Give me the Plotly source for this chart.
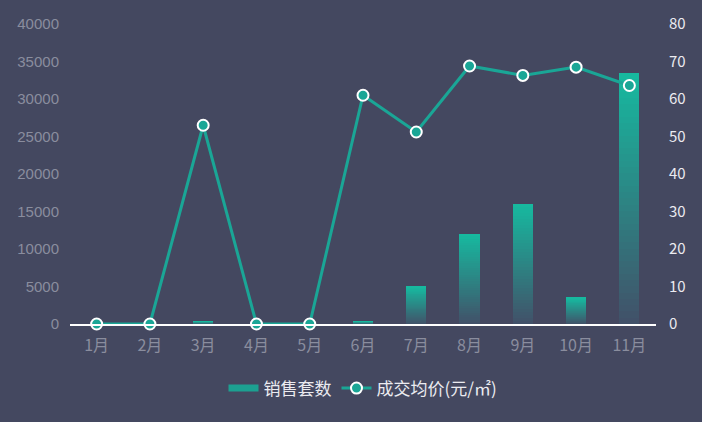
import plotly.graph_objects as go

months = ["1月", "2月", "3月", "4月", "5月", "6月", "7月", "8月", "9月", "10月", "11月"]
sales = [0, 0, 400, 0, 0, 400, 5000, 12000, 16000, 3500, 33500]
avg_price = [0, 0, 53, 0, 0, 61, 51.2, 68.8, 66.3, 68.5, 63.6]
left_ticks = [0, 5000, 10000, 15000, 20000, 25000, 30000, 35000, 40000]
right_ticks = [0, 10, 20, 30, 40, 50, 60, 70, 80]

BG = "rgb(68,72,96)"
TOP = (22, 186, 160)
BOTTOM = (66, 80, 104)
N = 40

fig = go.Figure()

# gradient bars: stacked segments, colour interpolated bottom -> top
for i in range(N):
    t = (i + 0.5) / N
    c = tuple(round(BOTTOM[k] + (TOP[k] - BOTTOM[k]) * t) for k in range(3))
    fig.add_trace(go.Bar(
        x=months, y=[v / N for v in sales],
        marker=dict(color="rgb(%d,%d,%d)" % c, line=dict(width=0)),
        width=0.38, showlegend=False, hoverinfo="skip", yaxis="y",
    ))

# legend proxy for bars
fig.add_trace(go.Scatter(
    x=[None], y=[None], mode="lines", name="销售套数",
    line=dict(color="rgb(28,160,145)", width=7), yaxis="y",
))

fig.add_trace(go.Scatter(
    x=months, y=avg_price, name="成交均价(元/㎡)", mode="lines+markers",
    line=dict(color="rgb(26,166,150)", width=3),
    marker=dict(size=11, color="rgb(26,166,150)", line=dict(color="white", width=2)),
    yaxis="y2", cliponaxis=False,
))

fig.update_layout(
    width=702, height=422,
    paper_bgcolor=BG, plot_bgcolor=BG,
    margin=dict(l=70, r=46, t=22, b=98),
    barmode="stack", bargap=0,
    font=dict(family="Noto Sans CJK SC, Microsoft YaHei, sans-serif"),
    xaxis=dict(
        type="category", range=[-0.5, len(months) - 0.5],
        showgrid=False, zeroline=False,
        showline=True, linecolor="white", linewidth=2,
        tickfont=dict(size=16, color="rgb(138,141,158)"),
        ticks="", ticklabelstandoff=6,
    ),
    yaxis=dict(
        range=[0, 40000], tickvals=left_ticks, tickformat="d",
        showgrid=False, zeroline=False, showline=False,
        tickfont=dict(size=15, color="rgb(138,141,158)",
                      family="Liberation Sans, Arial, sans-serif"),
        ticklabelstandoff=10,
    ),
    yaxis2=dict(
        range=[0, 80], tickvals=right_ticks, overlaying="y", side="right",
        showgrid=False, zeroline=False, showline=False,
        tickfont=dict(size=15, color="rgb(235,235,240)"),
        ticklabelstandoff=12,
    ),
    legend=dict(
        orientation="h", x=0.5, xanchor="center", y=-0.215, yanchor="middle",
        font=dict(size=17, color="rgb(235,235,240)"), bgcolor="rgba(0,0,0,0)",
        traceorder="normal", itemwidth=30, tracegroupgap=0,
    ),
    showlegend=True,
)

fig.write_html("out.html", config={"displayModeBar": False},
               post_script="document.body.style.margin='0';")
